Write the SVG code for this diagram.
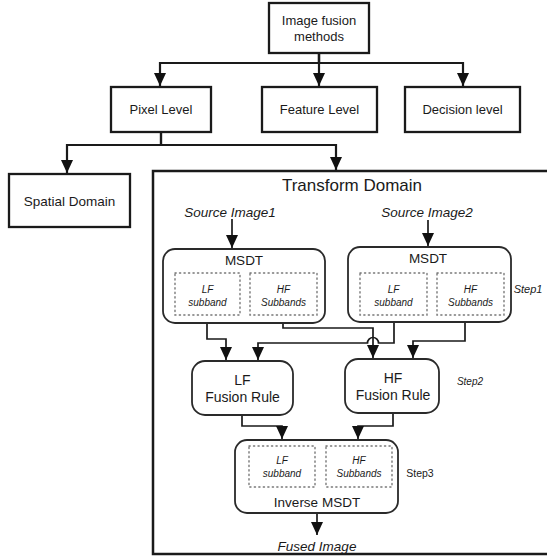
<svg xmlns="http://www.w3.org/2000/svg" width="547" height="556" viewBox="0 0 547 556">
<defs>
<style>
text{font-family:"Liberation Sans",Arial,sans-serif;fill:#1a1a1a;text-anchor:middle}
.box{fill:#fff;stroke:#1a1a1a;stroke-width:2.3}
.rbox{fill:#fff;stroke:#2a2a2a;stroke-width:1.8}
.dot{fill:none;stroke:#777;stroke-width:1.4;stroke-dasharray:1.2 3.3;stroke-linecap:round}
.c{fill:none;stroke:#1a1a1a;stroke-width:2.2}
.ci{fill:none;stroke:#1a1a1a;stroke-width:1.7}
.it{font-style:italic}
</style>
<marker id="a" markerUnits="userSpaceOnUse" markerWidth="12" markerHeight="14" refX="6" refY="13" viewBox="0 0 12 14" orient="0">
<path d="M0,0 L12,0 L6,13 Z" fill="#111"/>
</marker>
</defs>
<rect x="153" y="171" width="400" height="383" fill="#fff" stroke="#1a1a1a" stroke-width="2.5"/>
<g id="connectors">
<path class="c" d="M319,53 V63 H160 V86" marker-end="url(#a)"/>
<path class="c" d="M319,53 V86" marker-end="url(#a)"/>
<path class="c" d="M319,53 V63 H463 V86" marker-end="url(#a)"/>
<path class="c" d="M161,132 V145 H67 V173" marker-end="url(#a)"/>
<path class="c" d="M161,132 V145 H336 V170" marker-end="url(#a)"/>
<path class="ci" d="M232,219 V248" marker-end="url(#a)"/>
<path class="ci" d="M428,220 V246" marker-end="url(#a)"/>
<path class="ci" d="M207,315 V339 H226 V360" marker-end="url(#a)"/>
<path class="ci" d="M283,315 V328 H373 V358" marker-end="url(#a)"/>
<path class="ci" d="M394,315 V343 H378.5 A5.5,5.5 0 0 0 367.5,343 H258 V360" marker-end="url(#a)"/>
<path class="ci" d="M465,315 V341 H413 V358" marker-end="url(#a)"/>
<path class="ci" d="M242,415 V426 H282 V439" marker-end="url(#a)"/>
<path class="ci" d="M393,413 V426 H358 V439" marker-end="url(#a)"/>
<path class="ci" d="M317,513 V535" marker-end="url(#a)"/>
</g>
<g id="image-fusion-methods">
<rect class="box" x="269" y="3" width="100" height="50"/>
<text x="319" y="24.5" font-size="13">Image fusion</text>
<text x="319" y="40.5" font-size="13">methods</text>
</g>
<g id="pixel-level">
<rect class="box" x="111" y="87" width="100" height="45"/>
<text x="161" y="114" font-size="13">Pixel Level</text>
</g>
<g id="feature-level">
<rect class="box" x="262" y="87" width="115" height="45"/>
<text x="319.5" y="114" font-size="13">Feature Level</text>
</g>
<g id="decision-level">
<rect class="box" x="405" y="87" width="115" height="45"/>
<text x="462.5" y="114" font-size="13">Decision level</text>
</g>
<g id="spatial-domain">
<rect class="box" x="9" y="174" width="121" height="53"/>
<text x="69.5" y="205.5" font-size="13.5">Spatial Domain</text>
</g>
<g id="transform-domain">
<text x="352" y="191" font-size="17">Transform Domain</text>
</g>
<g id="source-image1">
<text class="it" x="230" y="217" font-size="13.5">Source Image1</text>
</g>
<g id="source-image2">
<text class="it" x="427" y="217" font-size="13.5">Source Image2</text>
</g>
<g id="msdt1">
<rect class="rbox" x="163" y="249" width="162" height="74" rx="12"/>
<text x="244" y="265" font-size="13.5">MSDT</text>
<rect class="dot" x="175" y="273" width="65" height="42"/>
<rect class="dot" x="250" y="273" width="67" height="42"/>
<text class="it" x="207.5" y="292.5" font-size="10">LF</text>
<text class="it" x="207.5" y="305.5" font-size="10">subband</text>
<text class="it" x="283.5" y="292.5" font-size="10">HF</text>
<text class="it" x="283.5" y="305.5" font-size="10">Subbands</text>
</g>
<g id="msdt2">
<rect class="rbox" x="348" y="247" width="163" height="75" rx="12"/>
<text x="428" y="263" font-size="13.5">MSDT</text>
<rect class="dot" x="360" y="273" width="67" height="42"/>
<rect class="dot" x="437" y="273" width="67" height="42"/>
<text class="it" x="393.5" y="292.5" font-size="10">LF</text>
<text class="it" x="393.5" y="305.5" font-size="10">subband</text>
<text class="it" x="470.5" y="292.5" font-size="10">HF</text>
<text class="it" x="470.5" y="305.5" font-size="10">Subbands</text>
</g>
<g id="step1"><text class="it" x="528" y="293" font-size="11">Step1</text></g>
<g id="lf-fusion-rule">
<rect class="rbox" x="192" y="361" width="101" height="54" rx="13"/>
<text x="242.5" y="385" font-size="14">LF</text>
<text x="242.5" y="402" font-size="14">Fusion Rule</text>
</g>
<g id="hf-fusion-rule">
<rect class="rbox" x="345" y="359" width="94" height="54" rx="13"/>
<text x="393" y="383" font-size="14">HF</text>
<text x="393" y="400" font-size="14">Fusion Rule</text>
</g>
<g id="step2"><text class="it" x="470" y="385" font-size="10">Step2</text></g>
<g id="inverse-msdt">
<rect class="rbox" x="235" y="440" width="163" height="73" rx="12"/>
<rect class="dot" x="249" y="446" width="66" height="41"/>
<rect class="dot" x="326" y="446" width="66" height="41"/>
<text class="it" x="282" y="463.5" font-size="10">LF</text>
<text class="it" x="282" y="476.5" font-size="10">subband</text>
<text class="it" x="359" y="463.5" font-size="10">HF</text>
<text class="it" x="359" y="476.5" font-size="10">Subbands</text>
<text x="317" y="507" font-size="13.5">Inverse MSDT</text>
</g>
<g id="step3"><text x="420" y="477" font-size="10.5">Step3</text></g>
<g id="fused-image">
<text class="it" x="317" y="550.5" font-size="13.5">Fused Image</text>
</g>
</svg>
